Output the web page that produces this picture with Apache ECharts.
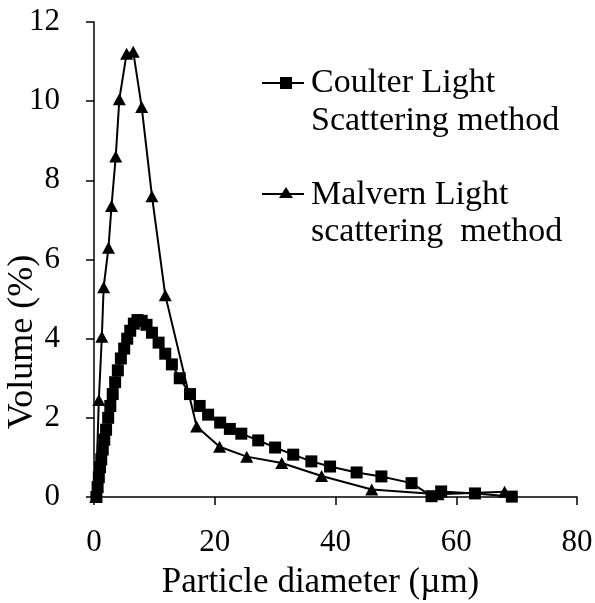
<!DOCTYPE html>
<html>
<head>
<meta charset="utf-8">
<script src="https://cdn.jsdelivr.net/npm/echarts@6/dist/echarts.min.js"></script>
<style>
html,body{margin:0;padding:0;background:#fff;}
#chart{width:595px;height:603px;}
</style>
</head>
<body>
<div id="chart"></div>
<script>
// ---- Data ----
const coulterX = [0.4, 0.6, 0.8, 1.0, 1.2, 1.45, 1.7, 2.0, 2.35, 2.7, 3.1, 3.5, 3.95, 4.45, 5.0, 5.5, 6.0, 6.6, 7.2, 7.9, 8.7, 9.6, 10.7, 11.8, 12.9, 14.2, 15.9, 17.5, 18.9, 20.9, 22.5, 24.4, 27.2, 30.0, 33.0, 36.0, 39.1, 43.5, 47.6, 52.6, 55.9, 57.5, 63.1, 69.2];
const coulterY = [0.0, 0.25, 0.5, 0.75, 0.95, 1.2, 1.45, 1.7, 2.0, 2.3, 2.6, 2.9, 3.2, 3.5, 3.75, 4.0, 4.2, 4.38, 4.47, 4.45, 4.35, 4.15, 3.9, 3.62, 3.35, 3.0, 2.6, 2.3, 2.08, 1.88, 1.72, 1.6, 1.43, 1.25, 1.07, 0.9, 0.77, 0.62, 0.52, 0.35, 0.02, 0.14, 0.09, 0.01];
const malvernX = [0.3, 0.8, 1.3, 1.6, 2.4, 2.9, 3.6, 4.2, 5.4, 6.5, 7.9, 9.6, 11.8, 17.0, 20.8, 25.3, 31.1, 37.7, 46.0, 57.0, 68.0];
const malvernY = [0.0, 2.45, 4.05, 5.3, 6.3, 7.35, 8.6, 10.05, 11.2, 11.25, 9.85, 7.6, 5.1, 1.78, 1.27, 1.02, 0.86, 0.53, 0.19, 0.07, 0.13];
const xTicks = [0, 20, 40, 60, 80];
const yTicks = [0, 2, 4, 6, 8, 10, 12];
const seriesNames = ['Coulter Light Scattering method', 'Malvern Light scattering  method'];
const legendLines = [['Coulter Light', 'Scattering method'], ['Malvern Light', 'scattering  method']];
const xTitle = 'Particle diameter (µm)';
const yTitle = 'Volume (%)';

const zip = (xs, ys) => xs.map((x, i) => [x, ys[i]]);
const FONT = '"Liberation Serif", "Times New Roman", serif';

const chart = echarts.init(document.getElementById('chart'), null, {renderer: 'canvas'});
const option = {
  backgroundColor: '#ffffff',
  animation: false,
  grid: {left: 94, right: 18, top: 22, bottom: 106, containLabel: false, outerBoundsMode: 'none'},
  xAxis: {
    type: 'value', min: xTicks[0], max: xTicks[xTicks.length - 1], interval: 20,
    name: xTitle, nameLocation: 'middle', nameGap: 68,
    nameTextStyle: {fontFamily: FONT, fontSize: 35, color: '#000', padding: [0, 30, 0, 0]},
    axisLine: {lineStyle: {color: '#000', width: 1.5}},
    axisTick: {show: true, length: 8, lineStyle: {color: '#000', width: 1.5}},
    axisLabel: {fontFamily: FONT, fontSize: 31, color: '#000', margin: 30},
    splitLine: {show: false}
  },
  yAxis: {
    type: 'value', min: yTicks[0], max: yTicks[yTicks.length - 1], interval: 2,
    axisLine: {show: true, lineStyle: {color: '#000', width: 1.5}},
    axisTick: {show: true, length: 8, lineStyle: {color: '#000', width: 1.5}},
    axisLabel: {fontFamily: FONT, fontSize: 31, color: '#000', margin: 34},
    splitLine: {show: false}
  },
  series: [
    {
      name: seriesNames[0], type: 'line', data: zip(coulterX, coulterY),
      symbol: 'rect', symbolSize: 12, showAllSymbol: true,
      lineStyle: {color: '#000', width: 2}, itemStyle: {color: '#000'}, z: 2
    },
    {
      name: seriesNames[1], type: 'line', data: zip(malvernX, malvernY),
      symbol: 'triangle', symbolSize: [13, 12], showAllSymbol: true,
      lineStyle: {color: '#000', width: 2}, itemStyle: {color: '#000'}, z: 3
    }
  ],
  graphic: [
    {type: 'text', x: 23, y: 342, rotation: Math.PI / 2,
      style: {text: yTitle, font: '36px ' + FONT, fill: '#000', align: 'center', verticalAlign: 'middle'}},
    {type: 'line', shape: {x1: 262, y1: 83, x2: 304, y2: 83}, style: {stroke: '#000', lineWidth: 2}},
    {type: 'rect', shape: {x: 280, y: 77, width: 12, height: 12}, style: {fill: '#000'}},
    {type: 'text', left: 311, top: 66, style: {text: legendLines[0][0], font: '34px ' + FONT, fill: '#000'}},
    {type: 'text', left: 311, top: 104, style: {text: legendLines[0][1], font: '34px ' + FONT, fill: '#000'}},
    {type: 'line', shape: {x1: 262, y1: 194, x2: 304, y2: 194}, style: {stroke: '#000', lineWidth: 2}},
    {type: 'polygon', shape: {points: [[286, 187], [279, 198], [293, 198]]}, style: {fill: '#000'}},
    {type: 'text', left: 311, top: 178, style: {text: legendLines[1][0], font: '34px ' + FONT, fill: '#000'}},
    {type: 'text', left: 311, top: 215, style: {text: legendLines[1][1], font: '34px ' + FONT, fill: '#000'}}
  ]
};
chart.setOption(option);
</script>
</body>
</html>
